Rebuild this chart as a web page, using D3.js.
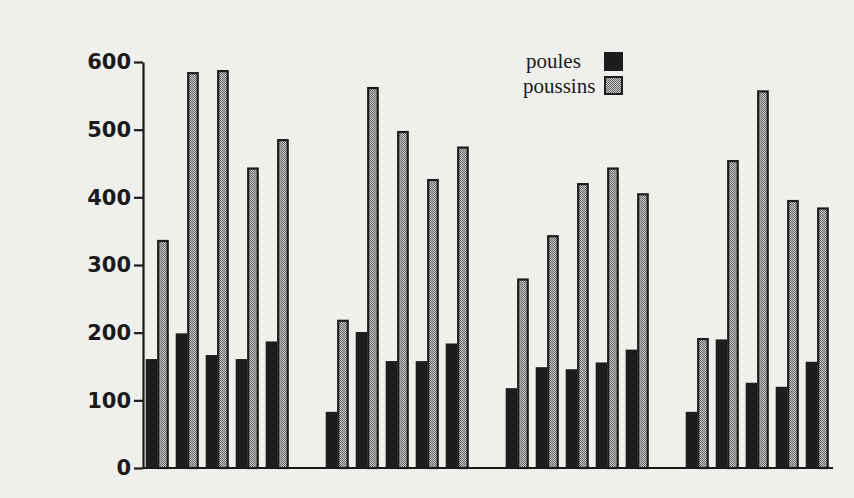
<!DOCTYPE html>
<html>
<head>
<meta charset="utf-8">
<script src="https://cdn.jsdelivr.net/npm/d3@7"></script>
<style>
  html, body { margin: 0; padding: 0; background: #efefec; }
  svg { display: block; }
</style>
</head>
<body>
<svg id="chart" width="854" height="498"></svg>
<script>
const groups = ["G1", "G2", "G3", "G4"];
const pairs = [0, 1, 2, 3, 4];
const seriesNames = ["poules", "poussins"];
const poules = [
  [161, 199, 167, 161, 187],
  [83, 201, 158, 158, 184],
  [118, 149, 146, 156, 175],
  [83, 190, 126, 120, 157]
];
const poussins = [
  [337, 585, 588, 444, 486],
  [219, 563, 498, 427, 475],
  [280, 344, 421, 444, 406],
  [192, 455, 558, 396, 385]
];
const yTicks = [0, 100, 200, 300, 400, 500, 600];

const svg = d3.select("#chart");
const margin = { left: 143, top: 62 };
const plotBottom = 468;

const defs = svg.append("defs");
const pat = defs.append("pattern")
  .attr("id", "dots").attr("patternUnits", "userSpaceOnUse")
  .attr("width", 2).attr("height", 2);
pat.append("rect").attr("width", 2).attr("height", 2).attr("fill", "#c9c9c7");
pat.append("rect").attr("width", 1).attr("height", 1).attr("fill", "#666");
pat.append("rect").attr("x", 1).attr("y", 1).attr("width", 1).attr("height", 1).attr("fill", "#666");

const y = d3.scaleLinear().domain([0, 600]).range([plotBottom, margin.top]);
const xGroup = d3.scaleBand().domain(groups).range([145.7, 145.7 + 720]).padding(0);
const xPair = d3.scaleBand().domain(pairs).range([0, 143]).paddingInner(0.233).paddingOuter(0);
const xSeries = d3.scaleBand().domain(seriesNames).range([0, xPair.bandwidth()]).padding(0);

const data = [];
groups.forEach((g, gi) => {
  pairs.forEach((p, pi) => {
    data.push({ g, p, s: "poules", v: poules[gi][pi] });
    data.push({ g, p, s: "poussins", v: poussins[gi][pi] });
  });
});

const xOf = d => xGroup(d.g) + xPair(d.p) + xSeries(d.s);

svg.append("g").selectAll("rect")
  .data(data.filter(d => d.s === "poules"))
  .join("rect")
  .attr("x", xOf)
  .attr("y", d => y(d.v))
  .attr("width", xSeries.bandwidth())
  .attr("height", d => y(0) - y(d.v))
  .attr("fill", "#1d1d1d");

svg.append("g").selectAll("rect")
  .data(data.filter(d => d.s === "poussins"))
  .join("rect")
  .attr("x", d => xOf(d) + 1)
  .attr("y", d => y(d.v) + 1)
  .attr("width", xSeries.bandwidth() - 2)
  .attr("height", d => y(0) - y(d.v) - 1)
  .attr("fill", "url(#dots)")
  .attr("stroke", "#1d1d1d")
  .attr("stroke-width", 2.2);

const yAxis = svg.append("g")
  .attr("transform", `translate(${margin.left},0)`)
  .call(d3.axisLeft(y).tickValues(yTicks).tickSize(9).tickSizeOuter(0).tickPadding(3));
yAxis.select(".domain").attr("stroke", "#1a1a1a").attr("stroke-width", 2.2);
yAxis.selectAll(".tick line").attr("stroke", "#1a1a1a").attr("stroke-width", 2.2);
yAxis.selectAll(".tick text")
  .attr("fill", "#1a1a1a")
  .style("font-family", "'DejaVu Sans', sans-serif")
  .style("font-weight", "bold")
  .style("font-size", "21px");

svg.append("line")
  .attr("x1", margin.left).attr("x2", 833)
  .attr("y1", y(0)).attr("y2", y(0))
  .attr("stroke", "#1a1a1a").attr("stroke-width", 2.2);

const legend = svg.append("g");
const legendItems = [
  { name: "poules", tx: 526, ty: 68, ry: 53, fill: "#1d1d1d" },
  { name: "poussins", tx: 523, ty: 93, ry: 77, fill: "url(#dots)" }
];
legendItems.forEach(it => {
  legend.append("text")
    .attr("x", it.tx).attr("y", it.ty)
    .text(it.name)
    .attr("fill", "#1a1a1a")
    .style("font-family", "'Liberation Serif', 'DejaVu Serif', serif")
    .style("font-size", "21px");
  legend.append("rect")
    .attr("x", 605).attr("y", it.ry)
    .attr("width", 17).attr("height", 17)
    .attr("fill", it.fill)
    .attr("stroke", "#1d1d1d").attr("stroke-width", 2);
});
</script>
</body>
</html>
